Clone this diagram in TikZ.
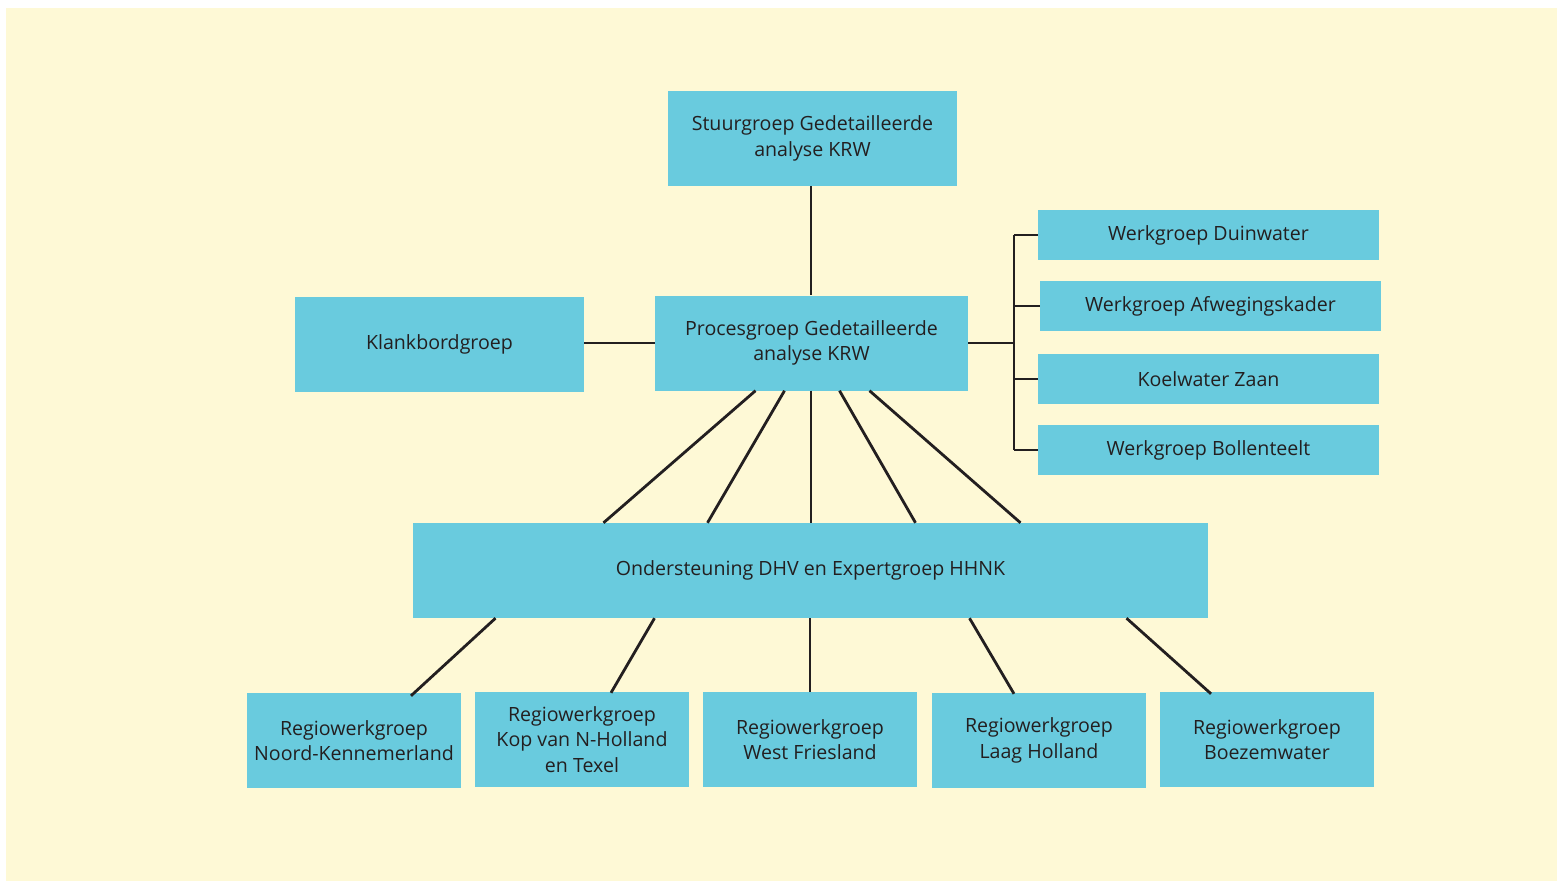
\documentclass[tikz,border=0pt]{standalone}
\usepackage{fontspec}
\setmainfont{Open Sans}
\definecolor{bgyellow}{HTML}{FEF9D6}
\definecolor{boxblue}{HTML}{69CBDE}
\definecolor{inkgrey}{HTML}{231F20}
\begin{document}
\begin{tikzpicture}[x=1pt, y=-1pt,
		group/.style={fill=boxblue, text=inkgrey, align=center, inner sep=0pt,
			font=\fontsize{19.6}{25.5}\selectfont},
		wide/.style={group, minimum width=289, minimum height=95},
		side/.style={group, minimum width=341, minimum height=50},
		regio/.style={group, minimum width=214, minimum height=95},
		link/.style={draw=inkgrey, line width=2.8pt}]
				\useasboundingbox (0,0) rectangle (1564,881);
				\fill[bgyellow] (6,8) rectangle (1557,881);
				\node[wide] (stuur) at (812.5,138.5) {Stuurgroep Gedetailleerde\\analyse KRW};
				\node[wide, minimum width=313] (proces) at (811.5,343) {Procesgroep Gedetailleerde\\analyse KRW};
				\node[wide] (klank) at (439.5,344.5) {Klankbordgroep};
				\node[side] (duin) at (1208.5,235) {Werkgroep Duinwater};
				\node[side] (afweg) at (1210.5,306) {Werkgroep Afwegingskader};
				\node[side] (koel) at (1208.5,379) {Koelwater Zaan};
				\node[side] (bollen) at (1208.5,450) {Werkgroep Bollenteelt};
				\node[wide, minimum width=795] (onder) at (810.5,570.5) {Ondersteuning DHV en Expertgroep HHNK};
				\node[regio] (noord) at (354,740.5) {Regiowerkgroep\\Noord-Kennemerland};
				\node[regio] (kop) at (582,739.5) {Regiowerkgroep\\Kop van N-Holland\\en Texel};
				\node[regio] (west) at (810,739.5) {Regiowerkgroep\\West Friesland};
				\node[regio] (laag) at (1039,740.5) {Regiowerkgroep\\Laag Holland};
				\node[regio] (boezem) at (1267,739.5) {Regiowerkgroep\\Boezemwater};
				\coordinate (bus) at (1014,343);
				\draw[link] (stuur.south -| 811,0) -- (proces.north -| 811,0);
				\draw[link] (proces.west -| klank.east) -- (proces.west);
				\draw[link] (proces.east) -- (bus);
				\draw[link] (bus |- duin.west) -- (bus |- bollen.west);
				\foreach \w in {duin, afweg, koel, bollen}
					\draw[link] (bus |- \w.west) -- (\w.west);
				% procesgroep naar ondersteuning
				\draw[link] ([xshift=-56]proces.south) -- ([xshift=-207]onder.north);
				\draw[link] ([xshift=-27]proces.south) -- ([xshift=-103]onder.north);
				\draw[link] (proces.south -| 811,0) -- (onder.north -| 811,0);
				\draw[link] ([xshift=28]proces.south) -- ([xshift=105]onder.north);
				\draw[link] ([xshift=58]proces.south) -- ([xshift=210]onder.north);
				% ondersteuning naar regio's
				\draw[link] ([xshift=-315]onder.south) -- ([xshift=57,yshift=-3]noord.north);
				\draw[link] ([xshift=-156]onder.south) -- ([xshift=29,yshift=-1]kop.north);
				\draw[link] (onder.south -| west.north) -- (west.north);
				\draw[link] ([xshift=159]onder.south) -- ([xshift=-25,yshift=-1]laag.north);
				\draw[link] ([xshift=316]onder.south) -- ([xshift=-56,yshift=-2]boezem.north);
			\end{tikzpicture}
\end{document}
